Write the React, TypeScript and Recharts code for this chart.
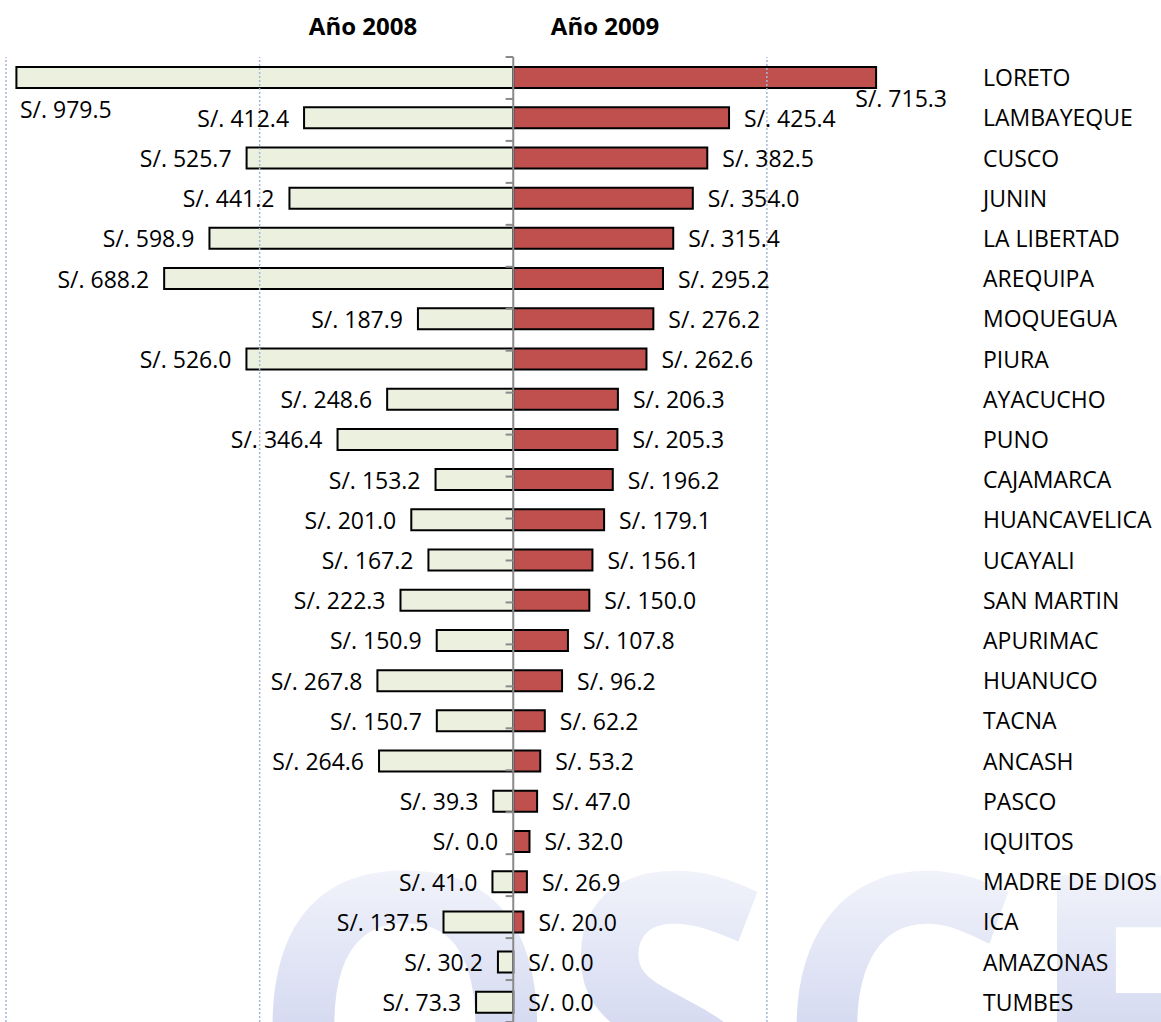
import React from "react";
import { Bar, BarChart, LabelList, Rectangle, ReferenceLine, XAxis, YAxis } from "recharts";

const regions = [
  "LORETO", "LAMBAYEQUE", "CUSCO", "JUNIN", "LA LIBERTAD", "AREQUIPA",
  "MOQUEGUA", "PIURA", "AYACUCHO", "PUNO", "CAJAMARCA", "HUANCAVELICA",
  "UCAYALI", "SAN MARTIN", "APURIMAC", "HUANUCO", "TACNA", "ANCASH",
  "PASCO", "IQUITOS", "MADRE DE DIOS", "ICA", "AMAZONAS", "TUMBES",
];
const monto2008 = [
  979.5, 412.4, 525.7, 441.2, 598.9, 688.2, 187.9, 526.0, 248.6, 346.4,
  153.2, 201.0, 167.2, 222.3, 150.9, 267.8, 150.7, 264.6, 39.3, 0.0,
  41.0, 137.5, 30.2, 73.3,
];
const monto2009 = [
  715.3, 425.4, 382.5, 354.0, 315.4, 295.2, 276.2, 262.6, 206.3, 205.3,
  196.2, 179.1, 156.1, 150.0, 107.8, 96.2, 62.2, 53.2, 47.0, 32.0,
  26.9, 20.0, 0.0, 0.0,
];
const seriesNames = ["Año 2008", "Año 2009"];
const gridValues = [-1000, -500, 500];

const FONT = "'Open Sans', sans-serif";
const W = 1161;
const H = 1022;
const PLOT_LEFT = 6;
const LABEL_RIGHT = 947;
const REGION_X = 983;

const data = regions.map((region, i) => ({
  region,
  y2008: -monto2008[i],
  y2009: monto2009[i],
}));
const boundaries = regions.map((_, i) => i).concat(regions.length);

const fmt = (v: number) => `S/. ${Math.abs(v).toFixed(1)}`;
const textWidth = (s: string) => s.length * 10.6;
const labelStyle = { fontFamily: FONT, fontSize: 23, fill: "#000" };

// zero values keep a label but draw no box
function BarShape(props: any) {
  const key = props.dataKey as string;
  const v = props.payload ? Number(props.payload[key]) : 0;
  if (!v) return null;
  return <Rectangle {...props} />;
}

function LeftLabel(props: any) {
  const x = Number(props.x);
  const w = Number(props.width);
  const y = Number(props.y);
  const h = Number(props.height);
  const v = Number(props.value);
  const left = v === 0 ? x : Math.min(x, x + w);
  const text = fmt(v);
  const cy = y + h / 2;
  if (left - 15 - textWidth(text) < PLOT_LEFT) {
    return (
      <text x={PLOT_LEFT + 14} y={cy + 31} textAnchor="start" dominantBaseline="central" style={labelStyle}>
        {text}
      </text>
    );
  }
  return (
    <text x={left - 15} y={cy} textAnchor="end" dominantBaseline="central" style={labelStyle}>
      {text}
    </text>
  );
}

function RightLabel(props: any) {
  const x = Number(props.x);
  const w = Number(props.width);
  const y = Number(props.y);
  const h = Number(props.height);
  const v = Number(props.value);
  const right = v === 0 ? x : Math.max(x, x + w);
  const text = fmt(v);
  const cy = y + h / 2;
  if (right + 15 + textWidth(text) > LABEL_RIGHT) {
    return (
      <text x={LABEL_RIGHT} y={cy + 20} textAnchor="end" dominantBaseline="central" style={labelStyle}>
        {text}
      </text>
    );
  }
  return (
    <text x={right + 15} y={cy} textAnchor="start" dominantBaseline="central" style={labelStyle}>
      {text}
    </text>
  );
}

function RegionTick(props: any) {
  return (
    <text x={REGION_X} y={props.y} textAnchor="start" dominantBaseline="central" style={labelStyle}>
      {props.payload.value}
    </text>
  );
}

const titleStyle: React.CSSProperties = {
  position: "absolute",
  top: 9,
  transform: "translateX(-50%)",
  fontFamily: FONT,
  fontWeight: 700,
  fontSize: 24,
  whiteSpace: "nowrap",
};

export default function App() {
  return (
    <div style={{ position: "absolute", left: 0, top: 0, width: W, height: H, overflow: "hidden", background: "#fff" }}>
      {/* faded logo behind the chart */}
      <svg width={W} height={H} style={{ position: "absolute", left: 0, top: 0 }}>
        <defs>
          <linearGradient id="wm" gradientUnits="userSpaceOnUse" x1="0" y1="860" x2="0" y2="1022">
            <stop offset="0" stopColor="#F3F4FB" />
            <stop offset="1" stopColor="#D6DBF1" />
          </linearGradient>
        </defs>
        <text
          x={250}
          y={1175}
          fontSize={420}
          fontWeight={700}
          fontFamily={FONT}
          fill="url(#wm)"
          textLength={990}
          lengthAdjust="spacingAndGlyphs"
        >
          OSCE
        </text>
      </svg>
      <div style={{ ...titleStyle, left: 363 }}>{seriesNames[0]}</div>
      <div style={{ ...titleStyle, left: 605 }}>{seriesNames[1]}</div>
      <div style={{ position: "absolute", left: 0, top: 0 }}>
        <BarChart
          width={W}
          height={H}
          data={data}
          layout="vertical"
          stackOffset="sign"
          margin={{ top: 57, right: 0, bottom: 0, left: PLOT_LEFT }}
        >
          <XAxis type="number" domain={[-1000, 930]} hide />
          <YAxis
            type="category"
            dataKey="region"
            orientation="right"
            width={176}
            axisLine={false}
            tickLine={false}
            tick={<RegionTick />}
            interval={0}
          />
          <YAxis yAxisId="idx" type="number" domain={[0, regions.length]} hide />
          {gridValues.map((v) => (
            <ReferenceLine key={v} x={v} stroke="#A7B6D8" strokeDasharray="2 2" strokeWidth={1.5} />
          ))}
          <Bar
            dataKey="y2008"
            stackId="a"
            barSize={21}
            minPointSize={0.01}
            fill="#EBF1DE"
            stroke="#000"
            strokeWidth={2}
            shape={<BarShape />}
            isAnimationActive={false}
          >
            <LabelList dataKey="y2008" content={<LeftLabel />} />
          </Bar>
          <Bar
            dataKey="y2009"
            stackId="a"
            barSize={21}
            minPointSize={0.01}
            fill="#C0504D"
            stroke="#000"
            strokeWidth={2}
            shape={<BarShape />}
            isAnimationActive={false}
          >
            <LabelList dataKey="y2009" content={<RightLabel />} />
          </Bar>
          <ReferenceLine x={0} stroke="#8A8A8A" strokeWidth={2} />
          {boundaries.map((k) => (
            <ReferenceLine
              key={"t" + k}
              yAxisId="idx"
              segment={[{ x: -15, y: k }, { x: 0, y: k }]}
              stroke="#8A8A8A"
              strokeWidth={2}
            />
          ))}
        </BarChart>
      </div>
    </div>
  );
}
